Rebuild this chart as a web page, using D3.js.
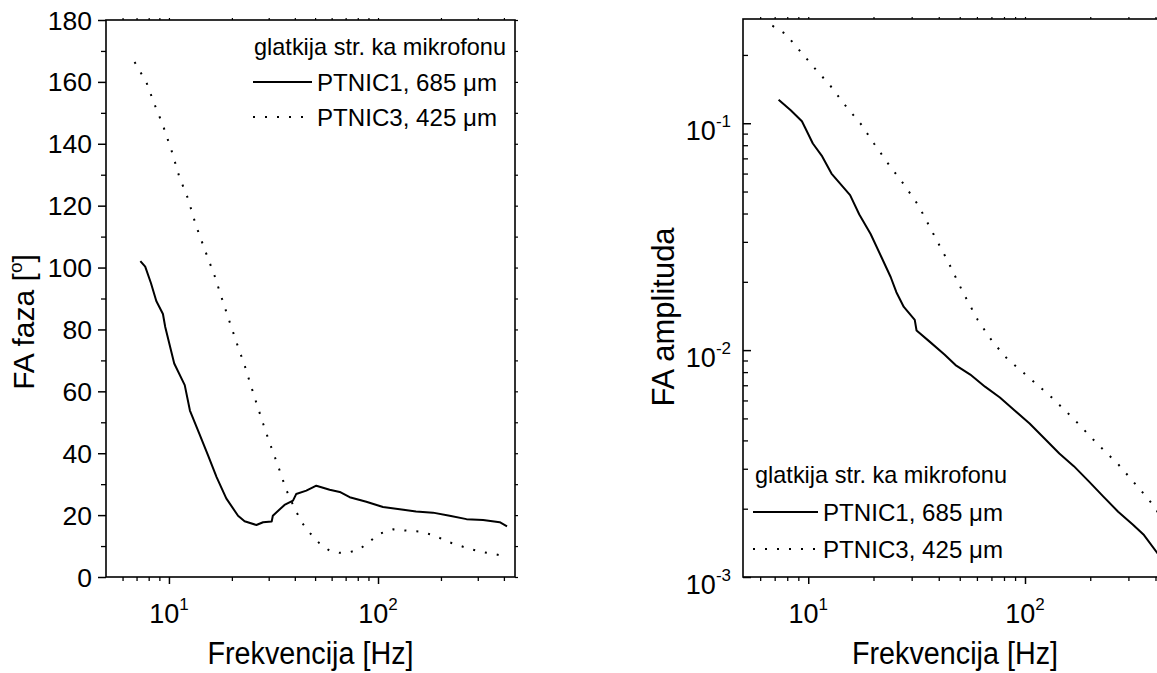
<!DOCTYPE html>
<html>
<head>
<meta charset="utf-8">
<script src="https://cdn.jsdelivr.net/npm/d3@7"></script>
<style>
  body { margin: 0; background: #fff; }
  svg { display: block; }
  text { font-family: "Liberation Sans", Arial, sans-serif; fill: #000; }
</style>
</head>
<body>
<svg id="chart" width="1157" height="673"></svg>
<script>
// ---- Phase (FA faza) vs frequency ----
const phaseFreq1 = [7.3, 7.7, 8.2, 8.7, 9.36, 9.6, 10.6, 11.9, 12.6, 14.0, 15.4, 16.9, 18.8, 21.4, 23.0, 26.2, 28.2, 31.0, 31.4, 35.7, 39.2, 40.6, 45.4, 50.7, 58.7, 65.6, 73.2, 87.9, 105.6, 127, 152, 183, 220, 265, 318, 382, 414];
const phase1     = [102.1, 100.3, 95, 89.2, 85, 80.8, 69, 62, 53.8, 46.2, 39.2, 32.3, 25.4, 19.8, 18.0, 16.8, 17.7, 17.9, 19.8, 23.3, 24.7, 26.8, 27.9, 29.5, 28.2, 27.5, 25.8, 24.3, 22.6, 21.9, 21.2, 20.8, 19.8, 18.7, 18.4, 17.7, 16.4];

const phaseFreq3 = [6.85, 7.8, 8.5, 9.36, 10.3, 11.2, 12.3, 13.5, 15.1, 16.5, 17.8, 19.1, 21.0, 23.0, 25.7, 28.2, 30.3, 33.3, 36.4, 39.2, 43, 47.1, 52.6, 58.7, 65.6, 73.2, 81.7, 91.2, 101.9, 118, 137, 158, 183, 220, 265, 318, 368, 414];
const phase3     = [166.4, 159.9, 153, 146, 137.7, 129.4, 122.5, 113.4, 104.4, 97.5, 90.6, 84.3, 76, 68.4, 58, 49.6, 43.4, 35.8, 28.2, 23.3, 17.8, 14.3, 10.8, 8.5, 7.8, 8.0, 9.0, 11.5, 14.0, 15.4, 15.0, 14.7, 13.6, 11.2, 9.4, 8.0, 7.3, 6.5];

// ---- Amplitude (FA amplituda) vs frequency ----
const ampFreq1 = [7.3, 8.3, 9.35, 9.7, 10.5, 11.6, 12.8, 15.6, 17.2, 19.4, 21.8, 24.0, 25.5, 27.6, 31.0, 31.6, 36.3, 42.5, 47.8, 55.9, 65.4, 76.6, 89.6, 105, 123, 144, 168, 197, 230, 269, 315, 354, 414];
const amp1     = [0.127, 0.114, 0.102, 0.095, 0.0814, 0.0714, 0.060, 0.0482, 0.0396, 0.0325, 0.0256, 0.0210, 0.0180, 0.0155, 0.0136, 0.0122, 0.0109, 0.00957, 0.00859, 0.0078, 0.0069, 0.00618, 0.00542, 0.00475, 0.00408, 0.00350, 0.00308, 0.00264, 0.00226, 0.00194, 0.00170, 0.00153, 0.00125];

const ampFreq3 = [6.83, 7.84, 9.17, 10.7, 12.6, 14.7, 17.5, 20.1, 23.6, 27.6, 32.3, 37.8, 44.2, 51.7, 60.5, 70.8, 82.8, 105, 133, 168, 213, 269, 341, 391, 414];
const amp3     = [0.269, 0.248, 0.208, 0.175, 0.147, 0.121, 0.0991, 0.0814, 0.0655, 0.0538, 0.0433, 0.0325, 0.0245, 0.0180, 0.0136, 0.0109, 0.00916, 0.00753, 0.00618, 0.00497, 0.00391, 0.00314, 0.00242, 0.00207, 0.0019];

// ---- Tick values and labels ----
const freqDomain = [5, 452];
const freqMajor = [10, 100];
const freqMajorExp = ["1", "2"];
const freqMinor = [6, 7, 8, 9, 20, 30, 40, 50, 60, 70, 80, 90, 200, 300, 400];
const phaseMajor = [0, 20, 40, 60, 80, 100, 120, 140, 160, 180];
const phaseMinor = [10, 30, 50, 70, 90, 110, 130, 150, 170];
const ampDomain = [0.001, 0.288];
const ampMajor = [0.001, 0.01, 0.1];
const ampMajorExp = ["-3", "-2", "-1"];
const ampMinor = [0.002, 0.003, 0.004, 0.005, 0.006, 0.007, 0.008, 0.009,
                  0.02, 0.03, 0.04, 0.05, 0.06, 0.07, 0.08, 0.09, 0.2];

// ---- Text ----
const legendTitle = "glatkija str. ka mikrofonu";
const seriesNames = ["PTNIC1, 685 \u03BCm", "PTNIC3, 425 \u03BCm"];
const xTitle = "Frekvencija [Hz]";

const svg = d3.select("#chart");
const axisColor = "#000";
const dotted = "2,10";

function styleAxis(g, w) {
  g.select(".domain").remove();
  g.selectAll("line").attr("stroke", axisColor).attr("stroke-width", w);
}

function frame(x0, y0, x1, y1) {
  svg.append("rect")
    .attr("x", x0).attr("y", y0)
    .attr("width", x1 - x0).attr("height", y1 - y0)
    .attr("fill", "none").attr("stroke", axisColor).attr("stroke-width", 1.6);
}

function superLabel(g, x, y, base, exp, anchor) {
  const t = g.append("text")
    .attr("x", x).attr("y", y)
    .attr("text-anchor", anchor)
    .attr("font-size", 27);
  t.append("tspan").text(base);
  t.append("tspan").attr("font-size", 17).attr("dy", -13).text(exp);
}

function freqAxes(x, yBottom, yTop) {
  // bottom: outward ticks
  const gb = svg.append("g").attr("transform", `translate(0,${yBottom})`);
  gb.call(d3.axisBottom(x).tickValues(freqMajor).tickSize(7).tickFormat(""));
  styleAxis(gb, 1.5);
  const gbm = svg.append("g").attr("transform", `translate(0,${yBottom})`);
  gbm.call(d3.axisBottom(x).tickValues(freqMinor).tickSize(4).tickFormat(""));
  styleAxis(gbm, 1.3);
  // top mirror ticks
  const gt = svg.append("g").attr("transform", `translate(0,${yTop})`);
  gt.call(d3.axisTop(x).tickValues(freqMajor.concat(freqMinor)).tickSize(2).tickFormat(""));
  styleAxis(gt, 1.2);
  // labels 10^n
  const gl = svg.append("g");
  freqMajor.forEach((v, i) => superLabel(gl, x(v), yBottom + 46, "10", freqMajorExp[i], "middle"));
  svg.append("text")
    .attr("x", (x.range()[0] + x.range()[1]) / 2)
    .attr("y", 664)
    .attr("text-anchor", "middle")
    .attr("font-size", 31)
    .attr("textLength", 206)
    .attr("lengthAdjust", "spacingAndGlyphs")
    .text(xTitle);
}

function drawLine(x, y, xs, ys, dashed) {
  const pts = xs.map((f, i) => [f, ys[i]]);
  svg.append("path")
    .datum(pts)
    .attr("fill", "none")
    .attr("stroke", "#000")
    .attr("stroke-width", 2)
    .attr("stroke-dasharray", dashed ? dotted : null)
    .attr("stroke-linejoin", "round")
    .attr("d", d3.line().x(d => x(d[0])).y(d => y(d[1])));
}

function legend(xText, yTitle, xLine0, xLine1, rowY) {
  svg.append("text").attr("x", xText).attr("y", yTitle)
    .attr("font-size", 24)
    .attr("textLength", 252).attr("lengthAdjust", "spacingAndGlyphs")
    .text(legendTitle);
  seriesNames.forEach((name, i) => {
    svg.append("line")
      .attr("x1", xLine0).attr("x2", xLine1)
      .attr("y1", rowY[i]).attr("y2", rowY[i])
      .attr("stroke", "#000").attr("stroke-width", 2)
      .attr("stroke-dasharray", i === 1 ? dotted : null);
    svg.append("text")
      .attr("x", xLine1 + 5).attr("y", rowY[i] + 9)
      .attr("font-size", 24)
      .attr("textLength", 180).attr("lengthAdjust", "spacingAndGlyphs")
      .text(name);
  });
}

// ================= Left panel: phase =================
{
  const L = 106, R = 515, T = 20, B = 577;
  const x = d3.scaleLog().domain(freqDomain).range([L, R]);
  const y = d3.scaleLinear().domain([0, 180]).range([B, T]);

  const gy = svg.append("g").attr("transform", `translate(${L},0)`);
  gy.call(d3.axisLeft(y).tickValues(phaseMajor).tickSize(8).tickFormat(""));
  styleAxis(gy, 1.5);
  const gym = svg.append("g").attr("transform", `translate(${L},0)`);
  gym.call(d3.axisLeft(y).tickValues(phaseMinor).tickSize(5).tickFormat(""));
  styleAxis(gym, 1.3);
  const gyr = svg.append("g").attr("transform", `translate(${R},0)`);
  gyr.call(d3.axisRight(y).tickValues(phaseMajor.concat(phaseMinor)).tickSize(3).tickFormat(""));
  styleAxis(gyr, 1.2);

  phaseMajor.forEach(v => {
    svg.append("text")
      .attr("x", L - 14).attr("y", y(v) + 9.5)
      .attr("text-anchor", "end").attr("font-size", 26.5)
      .text(v);
  });

  freqAxes(x, B, T);
  frame(L, T, R, B);

  const yt = svg.append("text")
    .attr("transform", `translate(34,322) rotate(-90)`)
    .attr("text-anchor", "middle")
    .attr("font-size", 30);
  yt.append("tspan").text("FA faza [");
  yt.append("tspan").attr("font-size", 19).attr("dy", -12).text("o");
  yt.append("tspan").attr("dy", 12).text("]");

  drawLine(x, y, phaseFreq1, phase1, false);
  drawLine(x, y, phaseFreq3, phase3, true);

  legend(254, 55, 253, 312, [82, 117]);
}

// ================= Right panel: amplitude =================
{
  const L = 743, R = 1167, T = 19, B = 577;
  const x = d3.scaleLog().domain(freqDomain).range([L, R]);
  const y = d3.scaleLog().domain(ampDomain).range([B, T]);

  // inward ticks on the left axis
  const gy = svg.append("g").attr("transform", `translate(${L},0)`);
  gy.call(d3.axisRight(y).tickValues(ampMajor).tickSize(8).tickFormat(""));
  styleAxis(gy, 1.5);
  const gym = svg.append("g").attr("transform", `translate(${L},0)`);
  gym.call(d3.axisRight(y).tickValues(ampMinor).tickSize(5).tickFormat(""));
  styleAxis(gym, 1.3);

  ampMajor.forEach((v, i) => superLabel(svg, L - 12, y(v) + 17, "10", ampMajorExp[i], "end"));

  freqAxes(x, B, T);
  frame(L, T, R, B);

  svg.append("text")
    .attr("transform", `translate(674,317) rotate(-90)`)
    .attr("text-anchor", "middle")
    .attr("font-size", 31)
    .text("FA amplituda");

  drawLine(x, y, ampFreq1, amp1, false);
  drawLine(x, y, ampFreq3, amp3, true);

  legend(755, 483, 753, 818, [512, 549]);
}
</script>
</body>
</html>
